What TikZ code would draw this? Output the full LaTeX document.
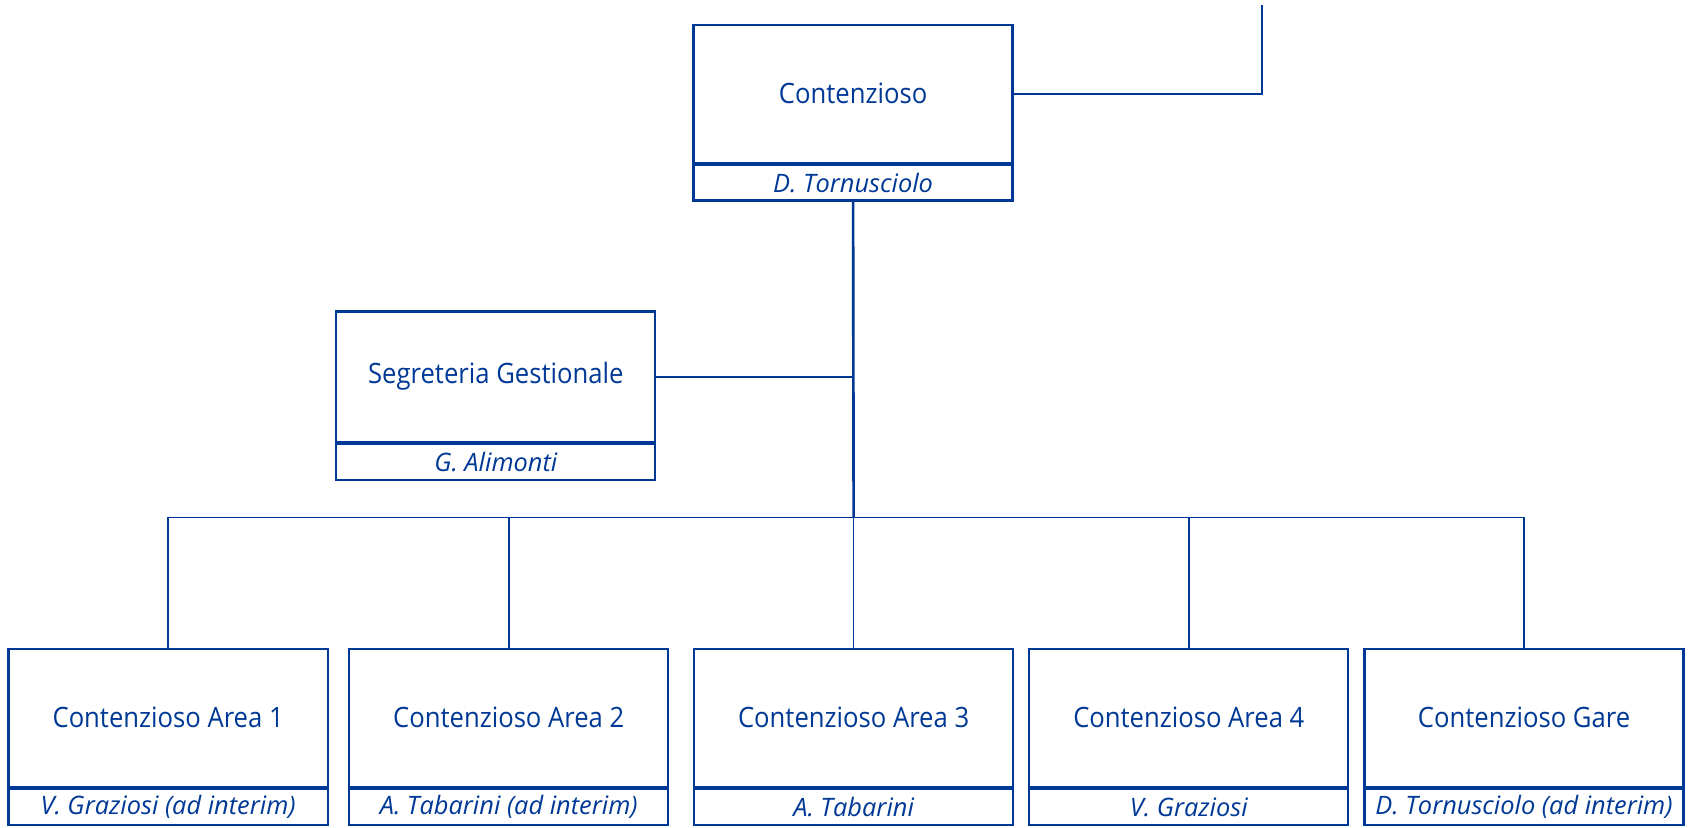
\documentclass[tikz,border=0pt]{standalone}
\usepackage{fontspec}
\setmainfont{Open Sans}
\newfontfamily\titlefont{Open Sans}[FakeStretch=0.915]
\usetikzlibrary{positioning}
\definecolor{ORGblue}{RGB}{0, 56, 150}
\tikzset{
    unitbox/.style={
        rectangle,
        draw=ORGblue,
        line width=0.6pt,
        text=ORGblue,
        inner sep=0pt,
        align=center,
        minimum width=2.96cm,
        minimum height=1.28cm,
        font=\titlefont\fontsize{7.4}{9}\selectfont
    },
    headbox/.style={
        rectangle,
        draw=ORGblue,
        line width=0.6pt,
        text=ORGblue,
        inner sep=0pt,
        align=center,
        minimum width=2.96cm,
        minimum height=0.33cm,
        font=\fontsize{6.7}{8}\selectfont\itshape
    },
    link/.style={
        draw=ORGblue,
        line width=0.45pt
    },
    trunk/.style={
        draw=ORGblue,
        line width=0.7pt
    }
}

\begin{document}
\begin{tikzpicture}[node distance=0cm]
    \useasboundingbox (0,0) rectangle (15.68,-7.68);

    % top unit
    \node[unitbox] (cont) at (7.915,-0.87) {Contenzioso};
    \node[headbox, below=of cont] (contname) {D. Tornusciolo};
    \coordinate (up) at (11.71,-0.05);

    % staff unit
    \node[unitbox, minimum height=1.21cm] (segr) at (4.60,-3.495) {Segreteria Gestionale};
    \node[headbox, below=of segr] (segrname) {G. Alimonti};

    % areas
    \node[unitbox] (area1) at (1.56,-6.66) {Contenzioso Area 1};
    \node[headbox, below=of area1] (area1name) {V. Graziosi (ad interim)};
    \node[unitbox] (area2) at (4.72,-6.66) {Contenzioso Area 2};
    \node[headbox, below=of area2] (area2name) {A. Tabarini (ad interim)};
    \node[unitbox] (area3) at (7.92,-6.66) {Contenzioso Area 3};
    \node[headbox, below=of area3] (area3name) {A. Tabarini};
    \node[unitbox] (area4) at (11.03,-6.66) {Contenzioso Area 4};
    \node[headbox, below=of area4] (area4name) {V. Graziosi};
    \node[unitbox] (gare) at (14.14,-6.66) {Contenzioso Gare};
    \node[headbox, below=of gare] (garename) {D. Tornusciolo (ad interim)};

    \coordinate (bus) at (7.92,-4.80);

    \draw[link] (cont.east) -| (up);
    \draw[trunk] (contname.south) -- (bus);
    \draw[link] (segr.east) -- (segr.east -| contname.south);

    \draw[link] (area1.north |- bus) -- (gare.north |- bus);
    \draw[link] (area1.north) -- (area1.north |- bus);
    \draw[link] (area2.north) -- (area2.north |- bus);
    \draw[link] (area3.north) -- (area3.north |- bus);
    \draw[link] (area4.north) -- (area4.north |- bus);
    \draw[link] (gare.north) -- (gare.north |- bus);
\end{tikzpicture}
\end{document}
